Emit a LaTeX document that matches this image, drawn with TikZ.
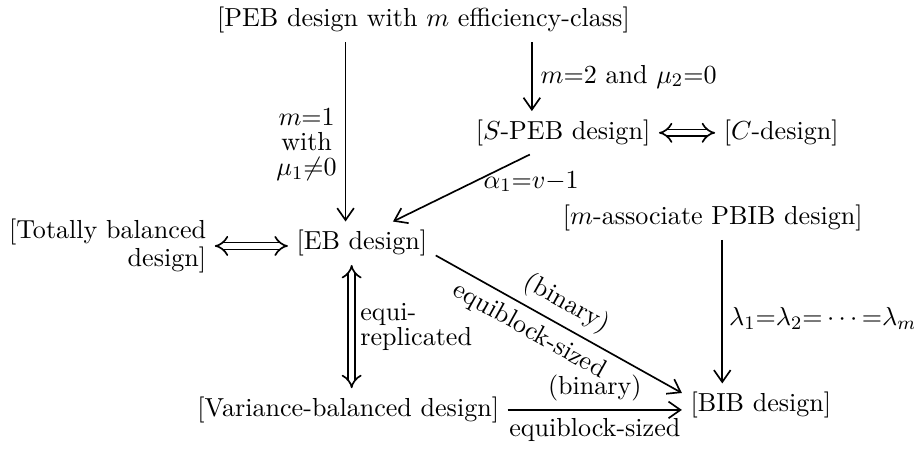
\documentclass[tikz,border=0pt]{standalone}
\usepackage{tikz}
\usetikzlibrary{arrows.meta, calc}
\tikzset{
  box/.style={inner sep=3.3pt, font=\fontsize{10.95}{10.5}\selectfont},
  lab/.style={font=\fontsize{10.95}{10.5}\selectfont},
  imp/.style={double, double distance=2.2pt, {Implies}-{Implies}},
  >={Straight Barb[length=5pt, width=7pt]}
}

\begin{document}
\begin{tikzpicture}[line width=0.7pt]
\useasboundingbox (0,0) rectangle (13.49,-6.63);

% designs
\node[box] (peb)  at (6.25,-0.30) {[PEB design with $m$ efficiency-class]};
\node[box] (speb) at (8.31,-1.96) {[$S$-PEB design]};
\node[box] (cdes) at (11.53,-1.96) {[$C$-design]};
\node[box] (eb)   at (5.34,-3.59) {[EB design]};
\node[box, anchor=east, align=right] (tot) at (3.17,-3.63) {[Totally balanced\\design]};
\node[box] (pbib) at (10.52,-3.22) {[$m$-associate PBIB design]};
\node[box] (var)  at (5.14,-6.05) {[Variance-balanced design]};
\node[box] (bib)  at (11.23,-5.98) {[BIB design]};

% implications
\draw[->] ([xshift=-0.24cm]eb.north |- peb.south) -- ([xshift=-0.24cm]eb.north)
  node[pos=0.57, left, align=center, lab] {$m{=}1$\\with\\$\mu_1{\neq}0$};
\draw[->] ([xshift=-0.46cm]speb.north |- peb.south) -- ([xshift=-0.46cm]speb.north)
  node[midway, right, lab] {$m{=}2$ and $\mu_2{=}0$};
\draw[->] ([xshift=-0.49cm]speb.south) -- ([xshift=0.46cm]eb.north);
\node[lab] (alab) at (7.84,-2.68) {$\alpha_1{=}v{-}1$};
\draw[->] ([yshift=-0.18cm]eb.east) -- ([yshift=0.18cm]bib.west)
  node[pos=0.49, sloped, above, lab] {(binary)}
  node[pos=0.42, sloped, below, lab] {equiblock-sized};
\draw[->] (var.east) -- (var.east -| bib.west)
  node[midway, above, lab] {(binary)}
  node[midway, below, lab] {equiblock-sized};
\draw[->] ([xshift=0.14cm]pbib.south) -- ([xshift=0.14cm]pbib.south |- bib.north)
  node[pos=0.55, right, inner sep=2.5pt, lab] {$\lambda_1{=}\lambda_2{=}\cdots{=}\lambda_m$};

% equivalences
\draw[imp] (tot.east) -- (tot.east -| eb.west);
\draw[imp] (speb.east) -- (cdes.west);
\draw[imp] ([xshift=-0.15cm]eb.south) -- ([xshift=-0.15cm]eb.south |- var.north)
  node[midway, right, align=left, lab] {equi-\\replicated};
\end{tikzpicture}
\end{document}
